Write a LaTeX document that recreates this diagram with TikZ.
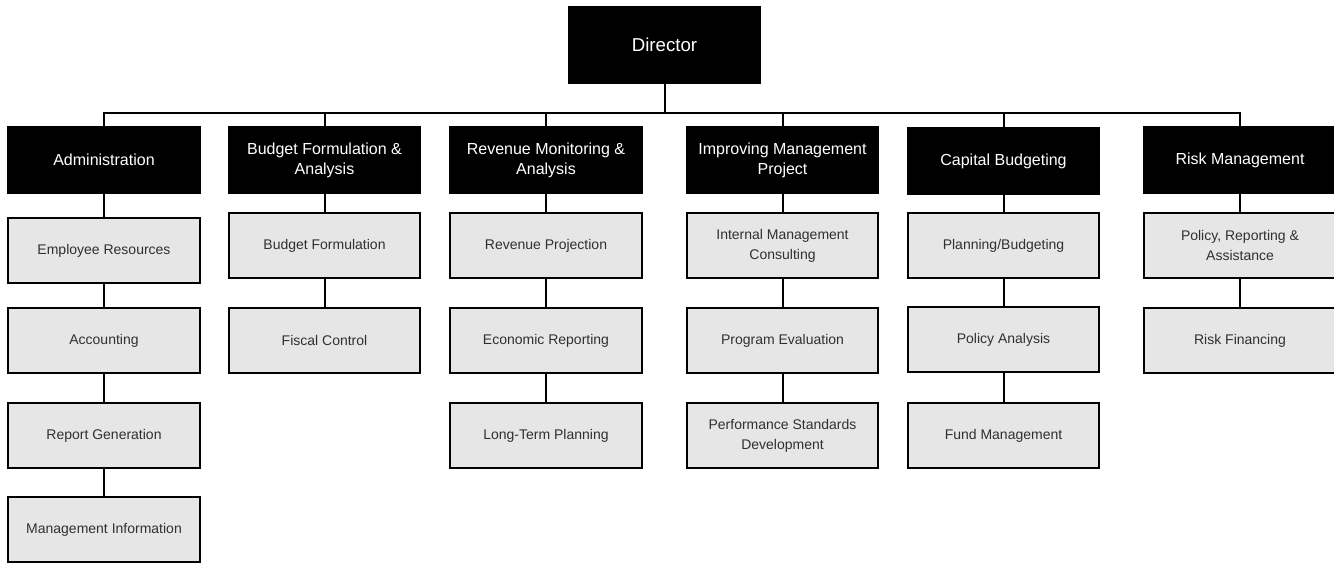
\documentclass[tikz,border=0pt]{standalone}
\usepackage{fontspec}
\setmainfont{Liberation Sans}
\definecolor{boxgray}{HTML}{E6E6E6}
\definecolor{labelgray}{HTML}{303030}
\begin{document}
\begin{tikzpicture}[x=0.75pt,y=-0.75pt,
  link/.style={line width=1.5pt},
  topbox/.style={fill=black, draw=black, line width=1.5pt, text=white,
    minimum width=143pt, minimum height=57pt, inner sep=0pt, align=center,
    font=\fontsize{14}{17}\selectfont},
  headbox/.style={fill=black, draw=black, line width=1.5pt, text=white,
    minimum width=143.5pt, minimum height=49.5pt, inner sep=0pt, align=center,
    font=\fontsize{12}{15}\selectfont},
  unitbox/.style={fill=boxgray, draw=black, line width=1.5pt, text=labelgray,
    minimum width=143.5pt, minimum height=48.75pt, inner sep=0pt, align=center,
    font=\fontsize{10.5}{15}\selectfont}]
\useasboundingbox (0,0) rectangle (1334,563);

% top level
\node[topbox] (dir) at (664.5,45) {Director};
\coordinate (bus) at (664.5,113);

% divisions
\node[headbox] (adm)  at (104,160)   {Administration};
\node[headbox] (bfa)  at (324.5,160) {Budget Formulation \&\\Analysis};
\node[headbox] (rma)  at (546,160)   {Revenue Monitoring \&\\Analysis};
\node[headbox] (imp)  at (782.5,160) {Improving Management\\Project};
\node[headbox] (cap)  at (1003.5,161){Capital Budgeting};
\node[headbox] (risk) at (1240,160)  {Risk Management};

% Administration units
\node[unitbox] (adm1) at (104,250.5) {Employee Resources};
\node[unitbox] (adm2) at (104,340.5) {Accounting};
\node[unitbox] (adm3) at (104,435.5) {Report Generation};
\node[unitbox] (adm4) at (104,529.5) {Management Information};

% Budget Formulation units
\node[unitbox] (bfa1) at (324.5,245.5) {Budget Formulation};
\node[unitbox] (bfa2) at (324.5,340.5) {Fiscal Control};

% Revenue Monitoring units
\node[unitbox] (rma1) at (546,245.5) {Revenue Projection};
\node[unitbox] (rma2) at (546,340.5) {Economic Reporting};
\node[unitbox] (rma3) at (546,435.5) {Long-Term Planning};

% Improving Management units
\node[unitbox] (imp1) at (782.5,245.5) {Internal Management\\Consulting};
\node[unitbox] (imp2) at (782.5,340.5) {Program Evaluation};
\node[unitbox] (imp3) at (782.5,435.5) {Performance Standards\\Development};

% Capital Budgeting units
\node[unitbox] (cap1) at (1003.5,245.5) {Planning/Budgeting};
\node[unitbox] (cap2) at (1003.5,339.5) {Policy Analysis};
\node[unitbox] (cap3) at (1003.5,435.5) {Fund Management};

% Risk Management units
\node[unitbox] (risk1) at (1240,245.5) {Policy, Reporting \&\\Assistance};
\node[unitbox] (risk2) at (1240,340.5) {Risk Financing};

% director to divisions
\draw[link] (dir.south) -- (bus);
\draw[link] (adm.north) -- (adm.north |- bus) -- (risk.north |- bus) -- (risk.north);
\foreach \d in {bfa,rma,imp,cap}
  \draw[link] (\d.north |- bus) -- (\d.north);

% division chains
\draw[link] (adm.south) -- (adm1.north) (adm1.south) -- (adm2.north)
            (adm2.south) -- (adm3.north) (adm3.south) -- (adm4.north);
\draw[link] (bfa.south) -- (bfa1.north) (bfa1.south) -- (bfa2.north);
\draw[link] (rma.south) -- (rma1.north) (rma1.south) -- (rma2.north)
            (rma2.south) -- (rma3.north);
\draw[link] (imp.south) -- (imp1.north) (imp1.south) -- (imp2.north)
            (imp2.south) -- (imp3.north);
\draw[link] (cap.south) -- (cap1.north) (cap1.south) -- (cap2.north)
            (cap2.south) -- (cap3.north);
\draw[link] (risk.south) -- (risk1.north) (risk1.south) -- (risk2.north);
\end{tikzpicture}
\end{document}
